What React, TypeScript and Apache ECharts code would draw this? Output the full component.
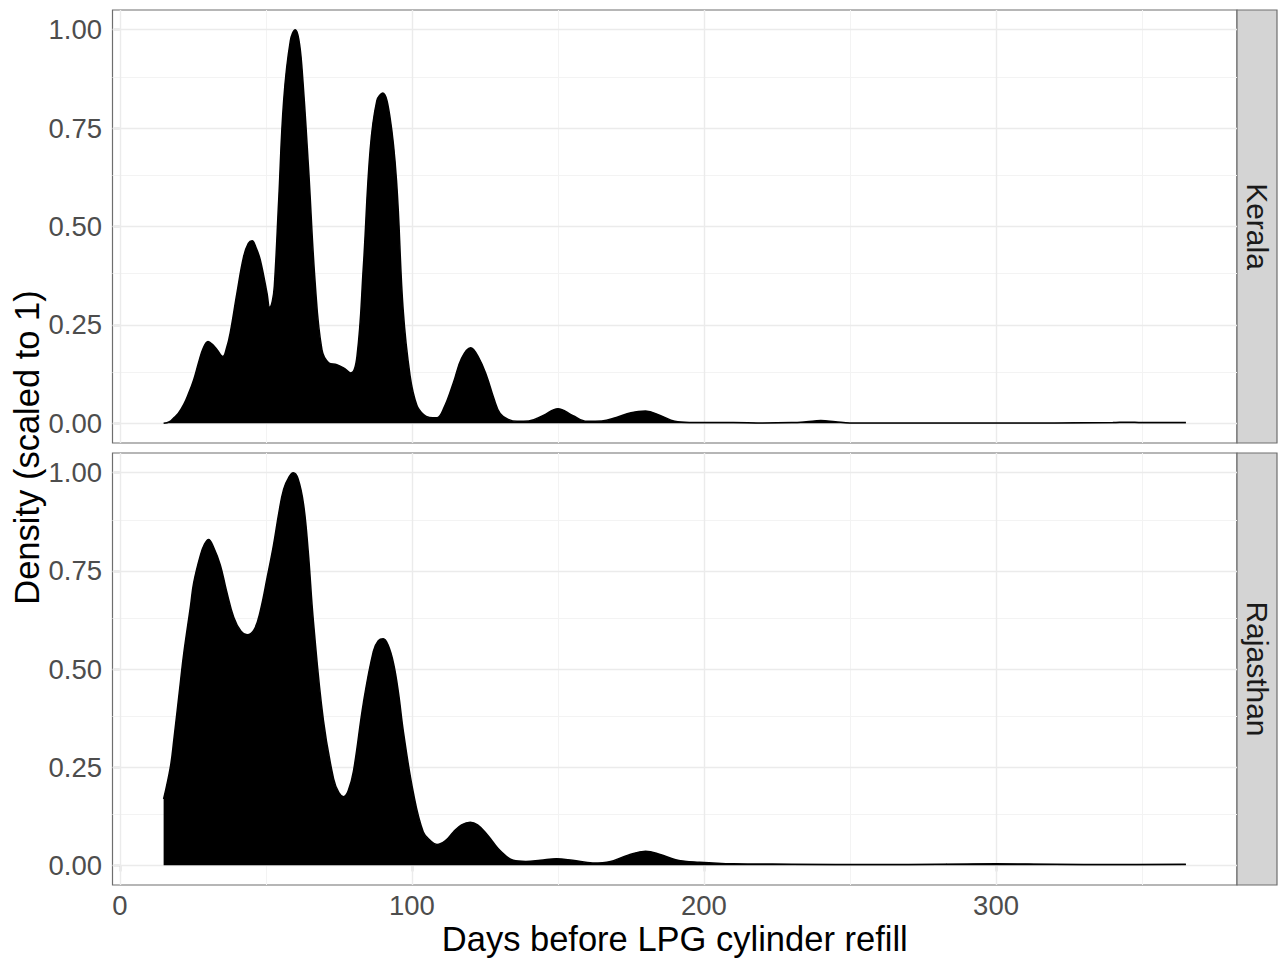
import React, { useEffect, useRef } from "react";
import * as echarts from "echarts";

// Scaled kernel density of days between LPG cylinder refills, per state
const keralaDays = [
  15, 17, 18.5, 20, 21.9, 23.5, 25.3, 27, 28.5, 30.2, 31.8, 33.3, 35.3, 36.5, 37.8,
  40.1, 42.4, 44, 45.3, 46.7, 48.1, 50.4, 51.3, 52.2, 52.9, 54.4, 56.1, 58.4, 60.1,
  61.3, 62.4, 64.6, 66.9, 69.2, 71.5, 74.3, 76.6, 79.1, 81.2, 83.4, 85.7, 88, 90,
  92.5, 94.8, 97, 99.4, 101.7, 104, 106, 108.5, 111, 114.2, 117, 120.1, 123, 125.6,
  128, 130.2, 133, 136, 140, 145, 150, 155, 160, 165, 170, 175, 180, 185, 190, 195,
  200, 210, 220, 230, 235, 240, 245, 250, 270, 300, 320, 340, 345, 350, 365,
];
const keralaDensity = [
  0.0, 0.004, 0.014, 0.025, 0.048, 0.075, 0.111, 0.155, 0.19, 0.208, 0.2, 0.187, 0.17,
  0.19, 0.23, 0.331, 0.424, 0.457, 0.464, 0.445, 0.415, 0.331, 0.295, 0.31, 0.348,
  0.567, 0.82, 0.972, 1.0, 0.975, 0.9, 0.651, 0.356, 0.187, 0.154, 0.149, 0.141, 0.128,
  0.17, 0.4, 0.694, 0.82, 0.839, 0.778, 0.61, 0.29, 0.12, 0.046, 0.022, 0.015, 0.014,
  0.04, 0.103, 0.165, 0.192, 0.165, 0.12, 0.065, 0.025, 0.01, 0.005, 0.006, 0.02,
  0.037, 0.02, 0.005, 0.006, 0.015, 0.027, 0.031, 0.02, 0.005, 0.002, 0.002, 0.002,
  0.001, 0.002, 0.004, 0.007, 0.004, 0.001, 0.001, 0.001, 0.001, 0.002, 0.003, 0.002,
  0.002,
];

const rajasthanDays = [
  15, 17.3, 18.5, 20.8, 21.9, 24.2, 25.3, 27.6, 29, 30.4, 32, 34.4, 36.5, 39, 41.5,
  43.6, 46, 48.1, 50.5, 52.6, 54.5, 56.1, 58, 59.4, 61, 62.9, 64.5, 66.3, 69.7, 73.2,
  75, 76.6, 78.2, 80, 83.4, 86.8, 88.5, 90.2, 91.8, 93.7, 95.4, 97.1, 100.5, 103.9,
  106.5, 108.6, 111.5, 114.2, 117, 120, 122.5, 125.6, 127.9, 130.2, 134.7, 139, 144,
  149.5, 155, 162, 168, 174, 180, 185, 190.6, 198.5, 210, 230, 260, 280, 300, 320, 340,
  365,
];
const rajasthanDensity = [
  0.169, 0.25, 0.32, 0.47, 0.54, 0.66, 0.72, 0.79, 0.818, 0.83, 0.812, 0.765, 0.7,
  0.632, 0.596, 0.587, 0.6, 0.648, 0.735, 0.815, 0.9, 0.958, 0.99, 1.0, 0.985, 0.92,
  0.8, 0.62, 0.37, 0.22, 0.185, 0.175, 0.19, 0.24, 0.414, 0.545, 0.572, 0.577, 0.562,
  0.515, 0.44, 0.34, 0.185, 0.085, 0.062, 0.053, 0.063, 0.085, 0.103, 0.11, 0.103,
  0.08, 0.058, 0.038, 0.013, 0.01, 0.013, 0.017, 0.013, 0.006, 0.01, 0.026, 0.036,
  0.028, 0.014, 0.008, 0.004, 0.003, 0.002, 0.003, 0.004, 0.003, 0.002, 0.003,
];

const panelNames = ["Kerala", "Rajasthan"];
const xMajorTicks = [0, 100, 200, 300];
const xMinorTicks = [50, 150, 250, 350];
const yMajorTicks = [0, 0.25, 0.5, 0.75, 1];
const yMinorTicks = [0.125, 0.375, 0.625, 0.875];
const xTitle = "Days before LPG cylinder refill";
const yTitle = "Density (scaled to 1)";

const W = 1281;
const H = 961;
const FONT = "'Liberation Sans', Arial, Helvetica, sans-serif";
const PANEL_LEFT = 112.5;
const PANEL_RIGHT = 1237;
const STRIP_W = 40;
const PANELS = [
  { top: 10, height: 433 },
  { top: 453, height: 432 },
];
const X_MIN = -2.5;
const X_MAX = 382.5;
const Y_MIN = -0.05;
const Y_MAX = 1.05;

export default function App() {
  const ref = useRef<HTMLDivElement>(null);

  useEffect(() => {
    if (!ref.current) return;
    const chart = echarts.init(ref.current, undefined, { renderer: "svg" });
    const seriesData = [
      keralaDays.map((d, i) => [d, keralaDensity[i]]),
      rajasthanDays.map((d, i) => [d, rajasthanDensity[i]]),
    ];

    const grids = PANELS.map((p) => ({
      left: PANEL_LEFT,
      top: p.top,
      width: PANEL_RIGHT - PANEL_LEFT,
      height: p.height,
      show: true,
      backgroundColor: "#FFFFFF",
      borderColor: "#6E6E6E",
      borderWidth: 1.2,
      containLabel: false,
    }));

    const xAxes = PANELS.map((_, i) => {
      const bottom = i === PANELS.length - 1;
      return {
        type: "value",
        gridIndex: i,
        min: X_MIN,
        max: X_MAX,
        axisLine: { show: false },
        splitLine: { show: false },
        axisTick: {
          show: bottom,
          customValues: xMajorTicks,
          length: 6,
          lineStyle: { color: "#333333", width: 1.2 },
        },
        axisLabel: {
          show: bottom,
          customValues: xMajorTicks,
          margin: 6,
          color: "#4D4D4D",
          fontSize: 27.5,
          fontFamily: FONT,
        },
      };
    });

    const yAxes = PANELS.map((_, i) => ({
      type: "value",
      gridIndex: i,
      min: Y_MIN,
      max: Y_MAX,
      axisLine: { show: false },
      splitLine: { show: false },
      axisTick: {
        show: true,
        customValues: yMajorTicks,
        length: 6,
        lineStyle: { color: "#333333", width: 1.2 },
      },
      axisLabel: {
        show: true,
        customValues: yMajorTicks,
        margin: 10.5,
        color: "#4D4D4D",
        fontSize: 27.5,
        fontFamily: FONT,
        formatter: (v: number) => v.toFixed(2),
      },
    }));

    const gridLineItems = [
      ...xMinorTicks.map((v) => ({ xAxis: v, lineStyle: { color: "#F3F3F3", width: 1, type: "solid" } })),
      ...yMinorTicks.map((v) => ({ yAxis: v, lineStyle: { color: "#F3F3F3", width: 1, type: "solid" } })),
      ...xMajorTicks.map((v) => ({ xAxis: v, lineStyle: { color: "#EBEBEB", width: 1.4, type: "solid" } })),
      ...yMajorTicks.map((v) => ({ yAxis: v, lineStyle: { color: "#EBEBEB", width: 1.4, type: "solid" } })),
    ];

    const series: any[] = [];
    PANELS.forEach((_, i) => {
      // background grid, kept underneath the density area
      series.push({
        type: "line",
        xAxisIndex: i,
        yAxisIndex: i,
        data: [],
        z: 1,
        silent: true,
        markLine: {
          z: 1,
          silent: true,
          symbol: ["none", "none"],
          label: { show: false },
          emphasis: { disabled: true },
          animation: false,
          data: gridLineItems,
        },
      });
      series.push({
        type: "line",
        name: panelNames[i],
        xAxisIndex: i,
        yAxisIndex: i,
        data: seriesData[i],
        z: 4,
        smooth: 0.4,
        symbol: "none",
        showSymbol: false,
        lineStyle: { color: "#000000", width: 1.5 },
        areaStyle: { color: "#000000", opacity: 1, origin: 0 },
        silent: true,
      });
    });

    const graphics: any[] = [];
    PANELS.forEach((p, i) => {
      graphics.push({
        type: "rect",
        shape: { x: PANEL_RIGHT, y: p.top, width: STRIP_W, height: p.height },
        style: { fill: "#D4D4D4", stroke: "#6E6E6E", lineWidth: 1.2 },
      });
      graphics.push({
        type: "text",
        x: PANEL_RIGHT + STRIP_W / 2,
        y: p.top + p.height / 2,
        rotation: -Math.PI / 2,
        style: {
          text: panelNames[i],
          fill: "#1A1A1A",
          font: `30px ${FONT}`,
          align: "center",
          verticalAlign: "middle",
        },
      });
    });
    graphics.push({
      type: "text",
      x: (PANEL_LEFT + PANEL_RIGHT) / 2,
      y: 939,
      style: {
        text: xTitle,
        fill: "#000000",
        font: `34.5px ${FONT}`,
        align: "center",
        verticalAlign: "middle",
      },
    });
    graphics.push({
      type: "text",
      x: 27,
      y: (PANELS[0].top + PANELS[1].top + PANELS[1].height) / 2,
      rotation: Math.PI / 2,
      style: {
        text: yTitle,
        fill: "#000000",
        font: `34.5px ${FONT}`,
        align: "center",
        verticalAlign: "middle",
      },
    });

    chart.setOption({
      animation: false,
      backgroundColor: "#FFFFFF",
      grid: grids,
      xAxis: xAxes,
      yAxis: yAxes,
      series,
      graphic: graphics,
    });

    return () => chart.dispose();
  }, []);

  return (
    <div
      ref={ref}
      style={{ position: "absolute", left: 0, top: 0, width: W, height: H }}
    />
  );
}
